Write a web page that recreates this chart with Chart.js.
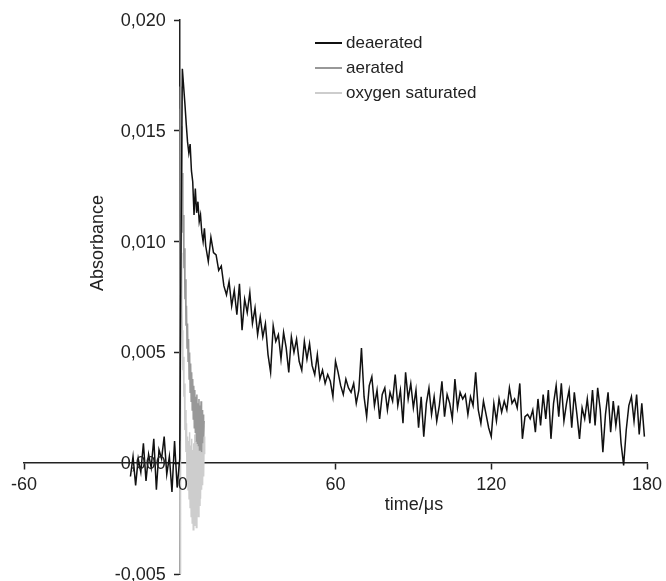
<!DOCTYPE html>
<html>
<head>
<meta charset="utf-8">
<script src="https://cdn.jsdelivr.net/npm/chart.js@4/dist/chart.umd.min.js"></script>
<style>
  html, body { margin: 0; padding: 0; background: #fff; }
  #wrap { width: 666px; height: 581px; position: relative; }
</style>
</head>
<body>
<div id="wrap"><canvas id="chart"></canvas></div>
<script>
const seriesNames = ['deaerated', 'aerated', 'oxygen saturated'];
const seriesColors = ['#111111', '#989898', '#cdcdcd'];
const xTicks = [-60, 0, 60, 120, 180];
const yTicks = [-0.005, 0, 0.005, 0.010, 0.015, 0.020];
const xTitle = 'time/\u03bcs';
const yTitle = 'Absorbance';

// deaerated trace (time in µs)
const deaeratedTime = [
  -19, -18, -17, -16, -15, -14, -13, -12, -11, -10, -9, -8, -7, -6, -5, -4, -3, -2, -1,
  0, 0.5, 1, 1.5, 2, 2.5, 3, 3.5, 4, 4.5, 5, 5.5, 6, 6.5, 7, 7.5, 8, 8.5, 9, 9.5, 10,
  11, 12, 13, 14, 15, 16, 17, 18, 19, 20,
  21, 22, 23, 24, 25, 26, 27, 28, 29, 30,
  31, 32, 33, 34, 35, 36, 37, 38, 39, 40,
  41, 42, 43, 44, 45, 46, 47, 48, 49, 50,
  51, 52, 53, 54, 55, 56, 57, 58, 59, 60,
  61, 62, 63, 64, 65, 66, 67, 68, 69, 70,
  71, 72, 73, 74, 75, 76, 77, 78, 79, 80,
  81, 82, 83, 84, 85, 86, 87, 88, 89, 90,
  91, 92, 93, 94, 95, 96, 97, 98, 99, 100,
  101, 102, 103, 104, 105, 106, 107, 108, 109, 110,
  111, 112, 113, 114, 115, 116, 117, 118, 119, 120,
  121, 122, 123, 124, 125, 126, 127, 128, 129, 130,
  131, 132, 133, 134, 135, 136, 137, 138, 139, 140,
  141, 142, 143, 144, 145, 146, 147, 148, 149, 150,
  151, 152, 153, 154, 155, 156, 157, 158, 159, 160,
  161, 162, 163, 164, 165, 166, 167, 168, 169, 170,
  171, 172, 173, 174, 175, 176, 177, 178, 179
];
const deaeratedAbs = [
  -0.0006, 0.0003, -0.0010, 0.0002, -0.0004, 0.0009, -0.0008, 0.0004, -0.0002, 0.0011,
  -0.0012, 0.0006, 0.0002, 0.0012, -0.0005, 0.0003, -0.0013, 0.0010, -0.0011,
  0.0002, 0.0100, 0.0178, 0.0170, 0.0162, 0.0153, 0.0145, 0.0140, 0.0144, 0.0132,
  0.0127, 0.0112, 0.0124, 0.0113, 0.0118, 0.0109, 0.0112, 0.0104, 0.0100, 0.0106, 0.0098,
  0.0091, 0.0102, 0.0095, 0.0094, 0.0087, 0.0089, 0.0080, 0.0076, 0.0082, 0.0071,
  0.0078, 0.0067, 0.0081, 0.0060, 0.0074, 0.0068, 0.0077, 0.0063, 0.0070, 0.0058,
  0.0066, 0.0057, 0.0063, 0.0049, 0.0041, 0.0062, 0.0055, 0.0058, 0.0047, 0.0059,
  0.0052, 0.0041, 0.0057, 0.0050, 0.0056, 0.0046, 0.0042, 0.0055, 0.0047, 0.0054,
  0.0044, 0.0040, 0.0049, 0.0038, 0.0042, 0.0036, 0.0040, 0.0037, 0.0030, 0.0046,
  0.0041, 0.0035, 0.0031, 0.0038, 0.0034, 0.0032, 0.0036, 0.0027, 0.0033, 0.0052,
  0.0030, 0.0021, 0.0035, 0.0039, 0.0026, 0.0033, 0.0020, 0.0031, 0.0034, 0.0024,
  0.0032, 0.0028, 0.0040, 0.0026, 0.0033, 0.0018, 0.0041, 0.0029, 0.0036, 0.0025,
  0.0033, 0.0016, 0.0030, 0.0012, 0.0027, 0.0034, 0.0022, 0.0030, 0.0019, 0.0026,
  0.0037, 0.0021, 0.0031, 0.0027, 0.0020, 0.0038, 0.0025, 0.0032, 0.0029, 0.0031,
  0.0022, 0.0030, 0.0026, 0.0041, 0.0024, 0.0018, 0.0028, 0.0022, 0.0016, 0.0012,
  0.0027, 0.0019, 0.0029, 0.0023, 0.0028, 0.0024, 0.0034, 0.0027, 0.0029, 0.0025,
  0.0036, 0.0011, 0.0021, 0.0022, 0.0020, 0.0024, 0.0014, 0.0029, 0.0017, 0.0031,
  0.0020, 0.0033, 0.0011, 0.0027, 0.0035, 0.0021, 0.0036, 0.0019, 0.0027, 0.0033,
  0.0016, 0.0032, 0.0022, 0.0011, 0.0025, 0.0020, 0.0029, 0.0018, 0.0033, 0.0017,
  0.0034, 0.0024, 0.0005, 0.0022, 0.0032, 0.0014, 0.0028, 0.0017, 0.0026, 0.0009,
  -0.0001, 0.0015, 0.0026, 0.0030, 0.0019, 0.0031, 0.0013, 0.0027, 0.0012
];

// aerated trace
const aeratedTime = [
  0, 0.2, 0.4, 0.6, 0.8, 1.0, 1.2, 1.4, 1.6, 1.8, 2.0, 2.2, 2.4, 2.6, 2.8, 3.0,
  3.2, 3.4, 3.6, 3.8, 4.0, 4.2, 4.4, 4.6, 4.8, 5.0, 5.2, 5.4, 5.6, 5.8, 6.0, 6.2,
  6.4, 6.6, 6.8, 7.0, 7.2, 7.4, 7.6, 7.8, 8.0, 8.2, 8.4, 8.6, 8.8, 9.0, 9.2, 9.4
];
const aeratedAbs = [
  0.0010, 0.0170, 0.0148, 0.0152, 0.0125, 0.0131, 0.0104, 0.0112, 0.0088, 0.0097,
  0.0074, 0.0083, 0.0062, 0.0071, 0.0052, 0.0063, 0.0046, 0.0056, 0.0038, 0.0050,
  0.0032, 0.0045, 0.0028, 0.0041, 0.0024, 0.0038, 0.0020, 0.0035, 0.0016, 0.0033,
  0.0014, 0.0030, 0.0010, 0.0031, 0.0009, 0.0027, 0.0008, 0.0029, 0.0006, 0.0026,
  0.0010, 0.0028, 0.0005, 0.0024, 0.0009, 0.0022, 0.0012, 0.0019
];

// oxygen saturated trace
const oxygenTime = [
  0, 0.1, 0.2, 0.4, 0.6, 0.8, 1.0, 1.2, 1.4, 1.6, 1.8, 2.0, 2.2, 2.4, 2.6, 2.8, 3.0,
  3.2, 3.4, 3.6, 3.8, 4.0, 4.2, 4.4, 4.6, 4.8, 5.0, 5.2, 5.4, 5.6, 5.8, 6.0, 6.2,
  6.4, 6.6, 6.8, 7.0, 7.2, 7.4, 7.6, 7.8, 8.0, 8.2, 8.4, 8.6, 8.8, 9.0, 9.2, 9.4, 9.6
];
const oxygenAbs = [
  0.0008, -0.0050, 0.0160, 0.0120, 0.0095, 0.0070, 0.0060, 0.0042, 0.0048, 0.0030,
  0.0036, 0.0015, 0.0024, 0.0005, 0.0018, -0.0008, 0.0012, -0.0012, 0.0010, -0.0016,
  0.0014, -0.0020, 0.0008, -0.0024, 0.0011, -0.0027, 0.0006, -0.0030, 0.0009, -0.0028,
  0.0013, -0.0025, 0.0010, -0.0029, 0.0016, -0.0022, 0.0012, -0.0024, 0.0018, -0.0019,
  0.0020, -0.0016, 0.0015, -0.0012, 0.0021, -0.0010, 0.0017, -0.0006, 0.0012, 0.0004
];

const FONT = '"Liberation Sans", Arial, sans-serif';

function toPoints(xs, ys) {
  return xs.map((x, i) => ({ x: x, y: ys[i] }));
}

function yLabel(v) {
  return v.toFixed(3).replace('.', ',');
}

// tick labels, legend and axis titles drawn at fixed spots like the original figure
const extras = {
  id: 'extras',
  afterDraw(chart) {
    const ctx = chart.ctx;
    const xs = chart.scales.x;
    const ys = chart.scales.y;
    const axisX = xs.getPixelForValue(0);
    const axisY = ys.getPixelForValue(0);
    ctx.save();

    ctx.font = '18px ' + FONT;
    ctx.fillStyle = '#222';
    ctx.textBaseline = 'middle';
    ctx.textAlign = 'right';
    yTicks.forEach(v => {
      ctx.fillText(yLabel(v), axisX - 14, ys.getPixelForValue(v) + 1);
    });
    ctx.textAlign = 'center';
    xTicks.forEach(v => {
      const dx = v === 0 ? 3 : 0;
      ctx.fillText(String(v), xs.getPixelForValue(v) + dx, axisY + 22);
    });

    ctx.font = '17px ' + FONT;
    ctx.textAlign = 'left';
    chart.data.datasets.forEach((ds, i) => {
      const y = 43 + i * 25;
      ctx.strokeStyle = ds.borderColor;
      ctx.lineWidth = 2;
      ctx.beginPath();
      ctx.moveTo(315, y);
      ctx.lineTo(342, y);
      ctx.stroke();
      ctx.fillStyle = '#222';
      ctx.fillText(ds.label, 346, y);
    });

    ctx.font = '18px ' + FONT;
    ctx.fillStyle = '#222';
    ctx.textAlign = 'center';
    ctx.fillText(xTitle, 414, 505);

    ctx.translate(98, 243);
    ctx.rotate(-Math.PI / 2);
    ctx.fillText(yTitle, 0, 0);
    ctx.restore();
  }
};

const series = [
  toPoints(deaeratedTime, deaeratedAbs),
  toPoints(aeratedTime, aeratedAbs),
  toPoints(oxygenTime, oxygenAbs)
];

new Chart(document.getElementById('chart'), {
  type: 'line',
  data: {
    datasets: series.map((pts, i) => ({
      label: seriesNames[i],
      data: pts,
      borderColor: seriesColors[i],
      borderWidth: 1.5,
      pointRadius: 0,
      tension: 0,
      fill: false
    }))
  },
  options: {
    responsive: true,
    maintainAspectRatio: false,
    animation: false,
    layout: {
      padding: { left: 24, right: 19, top: 20, bottom: 7 }
    },
    plugins: {
      legend: { display: false },
      tooltip: { enabled: false }
    },
    scales: {
      x: {
        type: 'linear',
        min: -60,
        max: 180,
        position: { y: 0 },
        afterBuildTicks: axis => { axis.ticks = xTicks.map(v => ({ value: v })); },
        grid: {
          drawOnChartArea: false,
          drawTicks: true,
          tickLength: 6,
          tickColor: '#222',
          tickWidth: 1.5
        },
        border: { color: '#222', width: 1.5 },
        ticks: { display: false }
      },
      y: {
        type: 'linear',
        min: -0.005,
        max: 0.020,
        position: { x: 0 },
        afterBuildTicks: axis => { axis.ticks = yTicks.map(v => ({ value: v })); },
        grid: {
          drawOnChartArea: false,
          drawTicks: true,
          tickLength: 5,
          tickColor: '#222',
          tickWidth: 1.5
        },
        border: { color: '#222', width: 1.5 },
        ticks: { display: false }
      }
    }
  },
  plugins: [extras]
});
</script>
</body>
</html>
